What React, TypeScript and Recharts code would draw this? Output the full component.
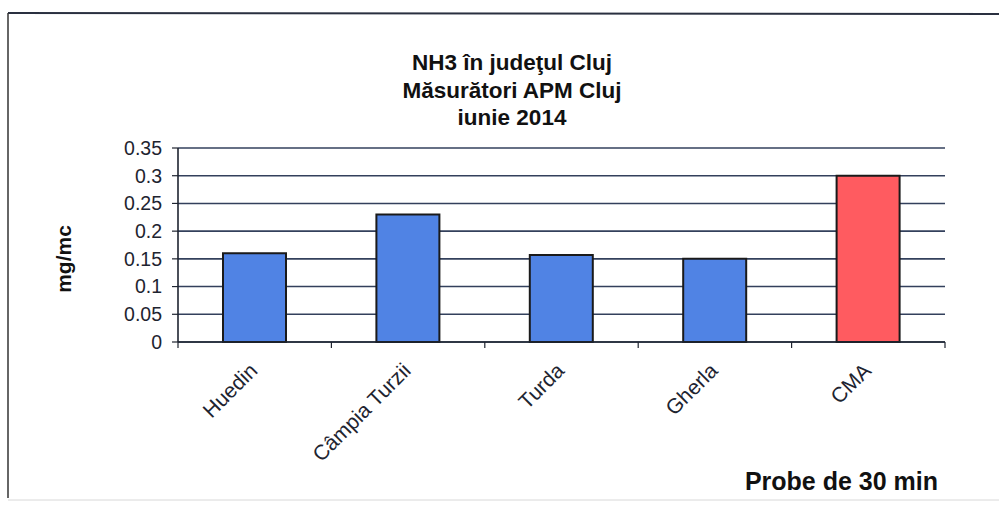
import React from 'react';
import { BarChart, Bar, Cell, XAxis, YAxis, CartesianGrid } from 'recharts';

const categories = ['Huedin', 'Câmpia Turzii', 'Turda', 'Gherla', 'CMA'];
const values = [0.16, 0.23, 0.157, 0.15, 0.3];
const barColors = ['#5083e4', '#5083e4', '#5083e4', '#5083e4', '#ff5b60'];
const yTicks = [0, 0.05, 0.1, 0.15, 0.2, 0.25, 0.3, 0.35];
const titleLines = ['NH3 în judeţul Cluj', 'Măsurători APM Cluj', 'iunie 2014'];
const yLabel = 'mg/mc';
const xLabel = 'Probe de 30 min';

const W = 999;
const H = 505;
const PLOT_LEFT = 178;
const PLOT_RIGHT = 945;
const PLOT_TOP = 148;
const PLOT_BOTTOM = 342;
const FONT = '"Liberation Sans", Arial, sans-serif';
const INK = '#1e2430';

const data = categories.map((name, i) => ({ name, value: values[i] }));

function CategoryTick(props: any) {
    const { x, y, payload, index } = props;
    const band = (PLOT_RIGHT - PLOT_LEFT) / categories.length;
    const ax = x + 4;
    const ay = y + 30;
    return (
        <g>
            <line x1={x - band / 2} y1={y} x2={x - band / 2} y2={y + 6} stroke={INK} strokeWidth={1.2} />
            {index === categories.length - 1 && (
                <line x1={x + band / 2} y1={y} x2={x + band / 2} y2={y + 6} stroke={INK} strokeWidth={1.2} />
            )}
            <text
                x={ax}
                y={ay}
                textAnchor="end"
                transform={`rotate(-45, ${ax}, ${ay})`}
                fontFamily={FONT}
                fontSize={21}
                fill={INK}
            >
                {payload.value}
            </text>
        </g>
    );
}

export default function App() {
    return (
        <div style={{ position: 'absolute', left: 0, top: 0, width: W, height: H, background: '#fff' }}>
            <BarChart
                width={W}
                height={H}
                data={data}
                margin={{ top: PLOT_TOP, right: W - PLOT_RIGHT, bottom: 0, left: 0 }}
            >
                <CartesianGrid vertical={false} stroke="#33405c" strokeWidth={1.6} />
                <XAxis
                    dataKey="name"
                    height={H - PLOT_BOTTOM}
                    tickSize={0}
                    tickMargin={0}
                    tickLine={false}
                    axisLine={{ stroke: INK, strokeWidth: 1.6 }}
                    tick={<CategoryTick />}
                    interval={0}
                />
                <YAxis
                    width={PLOT_LEFT}
                    domain={[0, 0.35]}
                    ticks={yTicks}
                    tickSize={6}
                    tickMargin={10}
                    tickLine={{ stroke: INK, strokeWidth: 1.2 }}
                    axisLine={{ stroke: INK, strokeWidth: 1.6 }}
                    tick={{ fill: INK, fontSize: 19.5, fontFamily: FONT }}
                    interval={0}
                />
                <YAxis
                    yAxisId="frame"
                    orientation="right"
                    width={0}
                    domain={[0, 0.35]}
                    tick={false}
                    tickLine={false}
                    axisLine={{ stroke: '#8a92a6', strokeWidth: 1.2 }}
                />
                <Bar dataKey="value" barSize={63} stroke="#1a1a1a" strokeWidth={2} isAnimationActive={false}>
                    {data.map((d, i) => (
                        <Cell key={d.name} fill={barColors[i]} />
                    ))}
                </Bar>
            </BarChart>
            <svg width={W} height={H} style={{ position: 'absolute', left: 0, top: 0, pointerEvents: 'none' }}>
                {/* frame of the pasted chart */}
                <line x1={8} y1={13} x2={W} y2={14} stroke="#2a3040" strokeWidth={2} />
                <line x1={8} y1={13} x2={8} y2={498} stroke="#333" strokeWidth={1.5} />
                <line x1={8} y1={500} x2={W} y2={500} stroke="#d8d8d8" strokeWidth={1} />
                {titleLines.map((t, i) => (
                    <text
                        key={t}
                        x={512}
                        y={70 + i * 27.5}
                        textAnchor="middle"
                        fontFamily={FONT}
                        fontWeight="bold"
                        fontSize={22.5}
                        fill="#111"
                    >
                        {t}
                    </text>
                ))}
                <text
                    x={71}
                    y={259}
                    textAnchor="middle"
                    transform="rotate(-90, 71, 259)"
                    fontFamily={FONT}
                    fontWeight="bold"
                    fontSize={21}
                    fill="#111"
                >
                    {yLabel}
                </text>
                <text x={938} y={490} textAnchor="end" fontFamily={FONT} fontWeight="bold" fontSize={25} fill="#111">
                    {xLabel}
                </text>
            </svg>
        </div>
    );
}
